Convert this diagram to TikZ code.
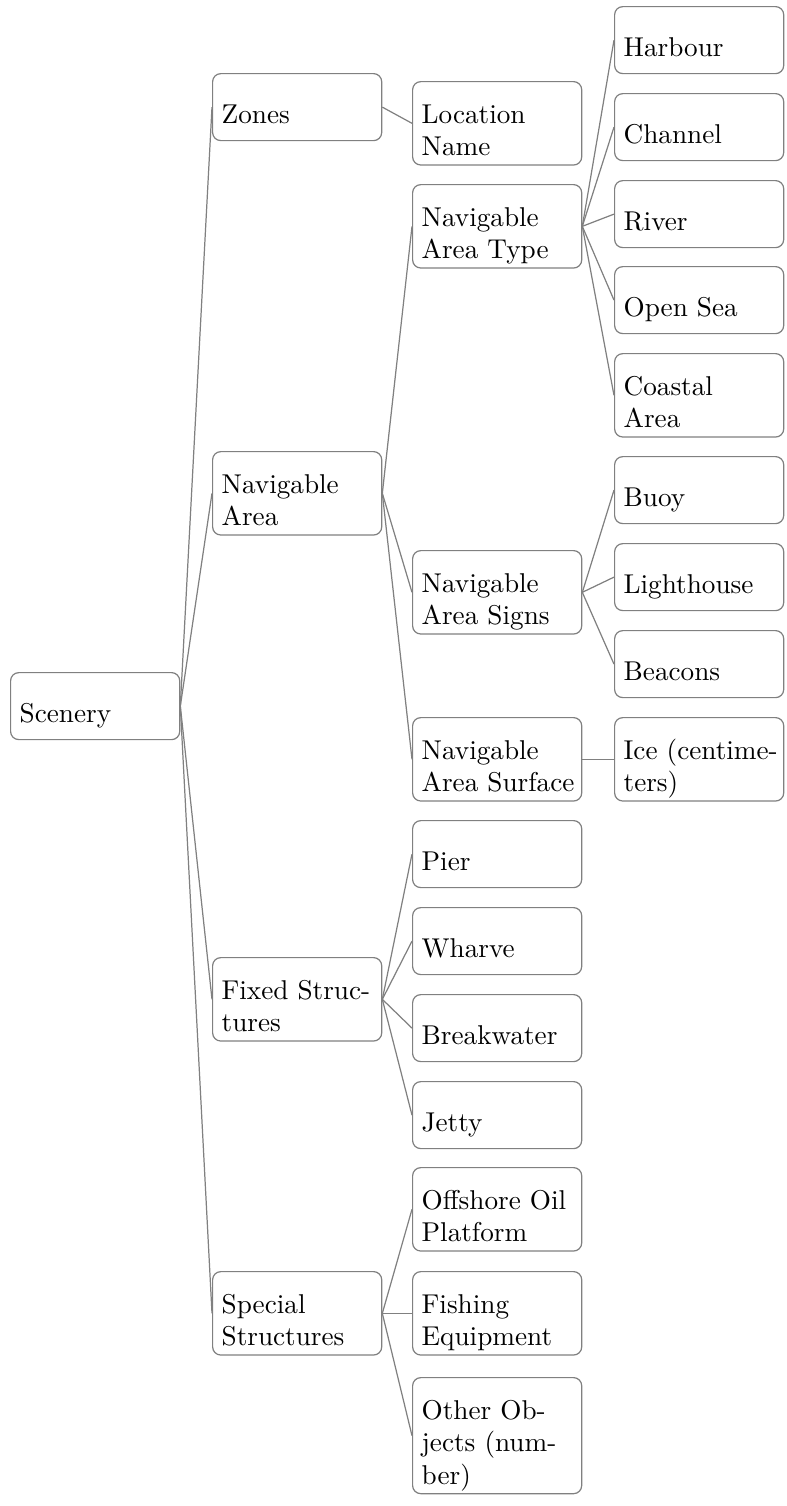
\documentclass[tikz,border=0pt]{standalone}
\begin{document}
\begin{tikzpicture}[x=0.3676pt, y=-0.3676pt,
  nbox/.style={draw=black!50, line width=0.45pt, rounded corners=3pt, anchor=north west,
    text width=55.5pt, align=left, inner xsep=3.33pt, inner ysep=3.33pt,
    text height=12pt, minimum height=24.63pt, font=\fontsize{10}{12}\selectfont},
  one/.style={text depth=0pt},
  two/.style={text depth=12pt},
  three/.style={text depth=24pt},
  link/.style={draw=black!50, line width=0.45pt}]
\useasboundingbox (0,0) rectangle (787,1506);
% level 0
\node[nbox,one] (sc) at (10,672) {Scenery};
% level 1
\node[nbox,one] (zones) at (212,73) {Zones};
\node[nbox,two] (navarea) at (212,451) {Navigable\\Area};
\node[nbox,two] (fixed) at (212,957) {\mbox{Fixed Struc-}\\tures};
\node[nbox,two] (special) at (212,1271) {Special\\Structures};
% level 2
\node[nbox,two] (locname) at (412,81) {Location\\Name};
\node[nbox,two] (natype) at (412,184) {Navigable\\\mbox{Area Type}};
\node[nbox,two] (nasigns) at (412,550) {Navigable\\\mbox{Area Signs}};
\node[nbox,two] (nasurf) at (412,717) {Navigable\\\mbox{Area Surface}};
\node[nbox,one] (pier) at (412,820) {Pier};
\node[nbox,one] (wharve) at (412,907) {Wharve};
\node[nbox,one] (breakw) at (412,994) {Breakwater};
\node[nbox,one] (jetty) at (412,1081) {Jetty};
\node[nbox,two] (offshore) at (412,1167) {\mbox{Offshore Oil}\\Platform};
\node[nbox,two] (fishing) at (412,1271) {Fishing\\Equipment};
\node[nbox,three] (other) at (412,1377) {\mbox{Other Ob-}\\\mbox{jects (num-}\\ber)};
% level 3
\node[nbox,one] (harbour) at (614,6) {Harbour};
\node[nbox,one] (channel) at (614,93) {Channel};
\node[nbox,one] (river) at (614,180) {River};
\node[nbox,one] (opensea) at (614,266) {\mbox{Open Sea}};
\node[nbox,two] (coastal) at (614,353) {Coastal\\Area};
\node[nbox,one] (buoy) at (614,456) {Buoy};
\node[nbox,one] (lighthouse) at (614,543) {Lighthouse};
\node[nbox,one] (beacons) at (614,630) {Beacons};
\node[nbox,two] (ice) at (614,717) {\mbox{Ice (centime-}\\ters)};
% connectors
\foreach \c in {zones,navarea,fixed,special} \draw[link] (sc.east) -- (\c.west);
\draw[link] (zones.east) -- (locname.west);
\foreach \c in {natype,nasigns,nasurf} \draw[link] (navarea.east) -- (\c.west);
\foreach \c in {harbour,channel,river,opensea,coastal} \draw[link] (natype.east) -- (\c.west);
\foreach \c in {buoy,lighthouse,beacons} \draw[link] (nasigns.east) -- (\c.west);
\draw[link] (nasurf.east) -- (ice.west);
\foreach \c in {pier,wharve,breakw,jetty} \draw[link] (fixed.east) -- (\c.west);
\foreach \c in {offshore,fishing,other} \draw[link] (special.east) -- (\c.west);
\end{tikzpicture}
\end{document}
